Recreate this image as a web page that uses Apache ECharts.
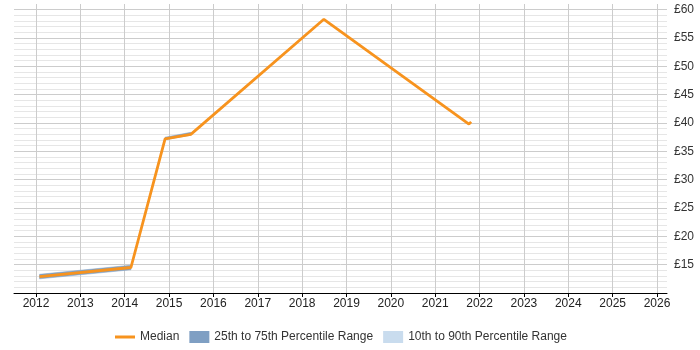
<!DOCTYPE html>
<html>
<head>
<meta charset="utf-8">
<script src="https://cdn.jsdelivr.net/npm/echarts@6/dist/echarts.min.js"></script>
<style>html,body{margin:0;padding:0;background:#fff}#c{width:700px;height:350px}</style>
</head>
<body>
<div id="c"></div>
<script>
// Median line
const years = [2012.08, 2014.14, 2014.91, 2015.49, 2018.49, 2021.76, 2021.81];
const median = [12.9, 14.5, 37.2, 38.0, 58.3, 39.8, 40.2];
// 25th-75th percentile band (null = gap)
const bandYears = [2012.08, 2014.14, 2014.5, 2014.91, 2015.49];
const p25 = [12.5, 14.1, null, 37.05, 37.85];
const p75 = [13.3, 14.9, null, 37.5, 38.35];
// axis ticks
const xTicks = [2012, 2013, 2014, 2015, 2016, 2017, 2018, 2019, 2020, 2021, 2022, 2023, 2024, 2025, 2026];
const yLabels = [15, 20, 25, 30, 35, 40, 45, 50, 55, 60];

const bandSegs = [];
for (let i = 0; i < bandYears.length - 1; i++) {
  if (p25[i] != null && p25[i + 1] != null) {
    bandSegs.push([bandYears[i], p25[i], p75[i], bandYears[i + 1], p25[i + 1], p75[i + 1]]);
  }
}

const font = "'Liberation Sans', Arial, sans-serif";
const Y_MIN = 10, Y_MAX = 61;
const chart = echarts.init(document.getElementById('c'), null, {renderer: 'canvas'});
chart.setOption({
  animation: false,
  textStyle: {fontFamily: font},
  grid: [
    {left: 36, right: 43, top: 4, bottom: 57},
    {left: 14, right: 33, top: 4, bottom: 57}
  ],
  legend: {
    top: 326, left: 110, itemGap: 10, itemWidth: 20, itemHeight: 12,
    textStyle: {fontSize: 12, color: '#333', fontFamily: font},
    data: [
      {name: 'Median', icon: 'path://M0,0 L0.01,0 L0,0.01 Z M0,4.5 L20,4.5 L20,7.5 L0,7.5 Z M0,12 L0.01,12 L0,11.99 Z'},
      {name: '25th to 75th Percentile Range', icon: 'rect'},
      {name: '10th to 90th Percentile Range', icon: 'rect'}
    ]
  },
  xAxis: [
    {
      gridIndex: 0, type: 'value', min: xTicks[0], max: xTicks[xTicks.length - 1], interval: 1,
      axisLine: {show: false},
      axisTick: {show: true, length: 4, lineStyle: {color: '#000'}},
      axisLabel: {margin: 5, fontSize: 12, color: '#222', fontFamily: font, showMinLabel: true, showMaxLabel: true,
        formatter: v => (xTicks.indexOf(v) >= 0 ? String(v) : '')},
      splitLine: {show: true, lineStyle: {color: '#cccccc', width: 1}}
    },
    {
      gridIndex: 1, type: 'value', min: 0, max: 1,
      axisLine: {show: true, lineStyle: {color: '#000', width: 1}},
      axisTick: {show: false}, axisLabel: {show: false}, splitLine: {show: false}
    }
  ],
  yAxis: [
    {
      gridIndex: 0, type: 'value', min: Y_MIN, max: Y_MAX, show: false,
      splitLine: {show: false}
    },
    {
      gridIndex: 1, type: 'value', position: 'right', min: Y_MIN, max: Y_MAX, interval: 1,
      axisLine: {show: false}, axisTick: {show: false},
      axisLabel: {
        margin: 7, fontSize: 12, color: '#333', fontFamily: font,
        formatter: v => (yLabels.indexOf(v) >= 0 ? '£' + v : '')
      },
      splitLine: {show: true, showMaxLine: false, lineStyle: {color: ['#cccccc', '#e6e6e6', '#e6e6e6', '#e6e6e6', '#e6e6e6'], width: 1}}
    }
  ],
  series: [
    {
      name: '25th to 75th Percentile Range', type: 'custom', xAxisIndex: 0, yAxisIndex: 0,
      color: '#7f9fc3', silent: true,
      encode: {x: [0, 3], y: [1, 2, 4, 5]},
      renderItem: (params, api) => {
        const a = api.coord([api.value(0), api.value(1)]);
        const b = api.coord([api.value(3), api.value(4)]);
        const c = api.coord([api.value(3), api.value(5)]);
        const d = api.coord([api.value(0), api.value(2)]);
        return {type: 'polygon', shape: {points: [a, b, c, d]}, style: {fill: '#7f9fc3', stroke: '#7f9fc3', lineWidth: 0.5}};
      },
      data: bandSegs
    },
    {
      name: '10th to 90th Percentile Range', type: 'line', xAxisIndex: 0, yAxisIndex: 0,
      color: '#c9dcee', symbol: 'none', data: []
    },
    {
      name: 'Median', type: 'line', xAxisIndex: 0, yAxisIndex: 0, symbol: 'none', color: '#f7931e',
      lineStyle: {color: '#f7931e', width: 2.8},
      data: years.map((x, i) => [x, median[i]])
    }
  ]
});
</script>
</body>
</html>
